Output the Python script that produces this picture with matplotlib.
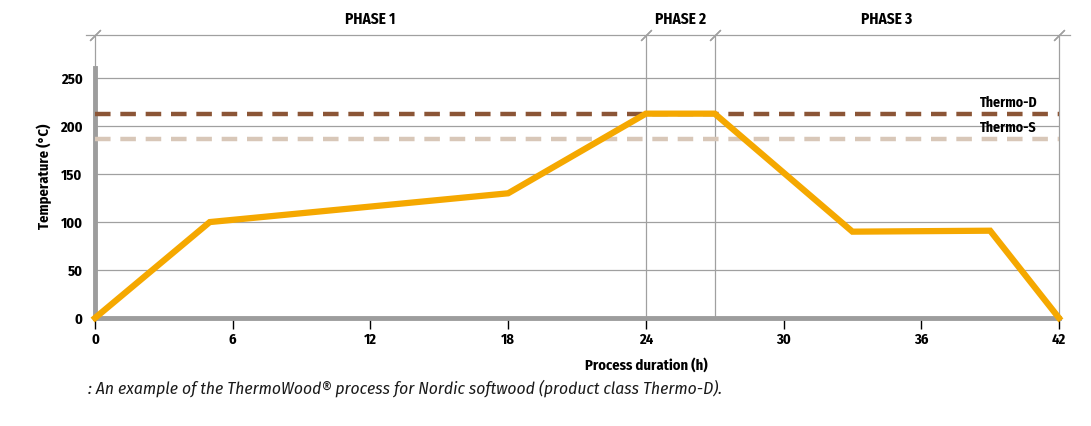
import matplotlib.pyplot as plt

hours = [0, 5, 18, 24, 27, 33, 39, 42]
temps = [0, 100, 130, 213, 213, 90, 91, 0]
thermo_d = 213
thermo_s = 187
phases = ['PHASE 1', 'PHASE 2', 'PHASE 3']
phase_bounds = [0, 24, 27, 42]
xticks = [0, 6, 12, 18, 24, 30, 36, 42]
yticks = [0, 50, 100, 150, 200, 250]

plt.rcParams['font.family'] = ['Fira Sans Condensed', 'DejaVu Sans']

fig = plt.figure(figsize=(10.91, 4.26), dpi=100)
ax = fig.add_axes([95 / 1091, 108 / 426, 964 / 1091, 283 / 426])
ax.set_xlim(0, 42)
ax.set_ylim(0, 295)
for s in ax.spines.values():
    s.set_visible(False)

grid = '#a0a0a0'
for y in yticks[1:]:
    ax.plot([0, 42], [y, y], color=grid, lw=0.9, zorder=1)
# phase verticals and the top bracket line
for x in phase_bounds:
    ax.plot([x, x], [0, 295], color=grid, lw=0.9, zorder=1, clip_on=False)
ax.plot([-0.4, 42.5], [295, 295], color=grid, lw=0.9, clip_on=False)
ax.plot(phase_bounds, [295] * 4, ls='none', marker=(2, 2, -45), ms=11,
        mew=0.9, color=grid, clip_on=False)
for i, p in enumerate(phases):
    xc = (phase_bounds[i] + phase_bounds[i + 1]) / 2
    ax.text(xc, 311, p, ha='center', va='center', fontsize=11,
            fontweight='bold', clip_on=False)

# axes lines
ax.plot([0, 0], [0, 261], color='#9d9d9d', lw=3.5, clip_on=False, zorder=2)
ax.plot([0, 42], [0, 0], color='#9d9d9d', lw=3.5, clip_on=False, zorder=2)

ax.plot([0, 42], [thermo_d, thermo_d], color='#8b5536', lw=3.2,
        dashes=(3.5, 2.2), zorder=3)
ax.plot([0, 42], [thermo_s, thermo_s], color='#d8c7b8', lw=3.2,
        dashes=(3.5, 2.2), zorder=3)
ax.text(39.8, thermo_d + 3.5, 'Thermo-D', ha='center', va='bottom',
        fontsize=10, fontweight='bold')
ax.text(39.8, thermo_s + 3.5, 'Thermo-S', ha='center', va='bottom',
        fontsize=10, fontweight='bold')

ax.plot(hours, temps, color='#f5a800', lw=4.5, solid_joinstyle='miter',
        zorder=4, clip_on=False)

ax.set_xticks(xticks)
ax.set_xticklabels([str(t) for t in xticks], fontsize=10.5, fontweight='bold')
ax.set_yticks(yticks)
ax.set_yticklabels([str(t) for t in yticks], fontsize=10.5, fontweight='bold')
ax.tick_params(axis='x', length=8, width=1, color='black', pad=3)
ax.tick_params(axis='y', length=0, pad=9)
ax.set_xlabel('Process duration (h)', fontsize=10.5, fontweight='bold')
ax.xaxis.set_label_coords(24 / 42, -0.14)
ax.set_ylabel('Temperature (°C)', fontsize=10.5, fontweight='bold')
ax.yaxis.set_label_coords(-43 / 964, 0.5)

fig.text(88 / 1091, 1 - 388 / 426,
         ': An example of the ThermoWood® process for Nordic softwood (product class Thermo-D).',
         fontsize=12.5, style='italic', va='center', ha='left', color='#1a1a1a')

fig.savefig('out.png', dpi=100)
